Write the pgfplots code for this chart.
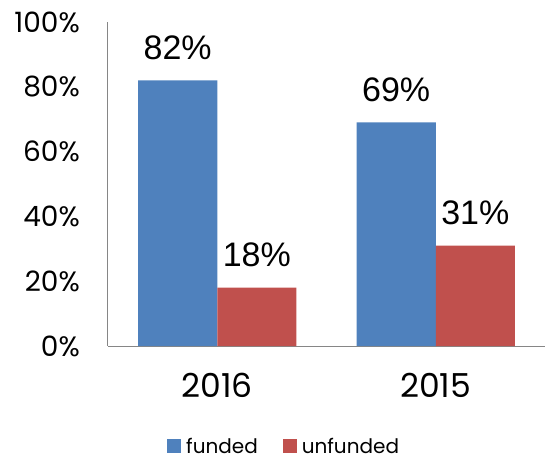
\documentclass[border=0pt]{standalone}
\usepackage{fontspec}
\setmainfont{Poppins}
\newfontfamily\arialfont{Liberation Sans}
\usepackage{pgfplots}
\usepackage{pgfplotstable}
\pgfplotsset{compat=1.18}
\usetikzlibrary{calc}

\definecolor{fundblue}{HTML}{4F81BD}
\definecolor{unfundred}{HTML}{C0504D}
\definecolor{axisgray}{HTML}{868686}

% funded / unfunded share per year, in percent
\pgfplotstableread{
pos year funded unfunded
0 2016 82 18
1 2015 69 31
}\shares

\begin{document}
\begin{tikzpicture}
\begin{axis}[
    name=ax,
    scale only axis,
    width=437bp, height=324bp,
    ybar=0pt, bar width=0.362,
    xmin=-0.5, xmax=1.5,
    ymin=0, ymax=100,
    xtick={0,1}, xticklabels={2016,2015},
    ytick={0,20,...,100},
    yticklabel={\pgfmathprintnumber{\tick}\%},
    /pgf/number format/assume math mode=true,
    axis x line*=bottom, axis y line*=left,
    axis line style={axisgray, line width=1bp, -},
    major tick length=0pt,
    yticklabel style={font=\fontsize{28bp}{32bp}\selectfont, anchor=east, inner sep=0pt, xshift=-28bp},
    xticklabel style={font=\fontsize{33bp}{36bp}\selectfont, anchor=base, inner sep=0pt, yshift=-51bp},
    nodes near coords={\pgfmathprintnumber{\pgfplotspointmeta}\%},
    nodes near coords style={font=\arialfont\fontsize{34bp}{37bp}\selectfont, anchor=base, inner sep=0pt, yshift=21bp, black},
    legend style={at={(0.135,-0.312)}, anchor=west, legend columns=2, draw=none, fill=none,
        font=\fontsize{20bp}{24bp}\selectfont, inner sep=0pt, nodes={inner sep=1bp},
        /tikz/every even column/.append style={column sep=24bp}},
    legend image code/.code={\fill[#1] (0bp,-6bp) rectangle (14bp,8bp); \path (18bp,0bp);},
]
\addplot[fill=fundblue, draw=none] table[x=pos, y=funded] {\shares};
\addlegendentry{funded}
\addplot[fill=unfundred, draw=none] table[x=pos, y=unfunded] {\shares};
\addlegendentry{unfunded}
\end{axis}
\pgfresetboundingbox
\path (ax.south west) ++(-108bp,-116bp) rectangle ($(ax.north east)+(6bp,22bp)$);
\end{tikzpicture}
\end{document}
